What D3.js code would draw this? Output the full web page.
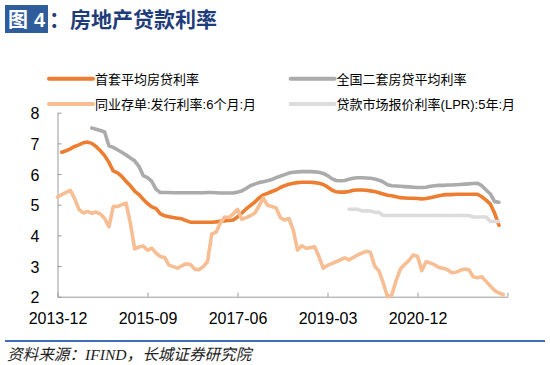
<!DOCTYPE html>
<html><head><meta charset="utf-8">
<script src="https://cdn.jsdelivr.net/npm/d3@7"></script>
<style>body{margin:0;background:#fff} svg{display:block}</style>
</head><body><svg id="c" width="550" height="365"></svg>
<script>
// ---- data (monthly, index 0 = 2013-12) ----
const startMonth = "2013-12";
const monthCount = 106; // 2013-12 .. 2022-09
const seriesNames = ["首套平均房贷利率","全国二套房贷平均利率","同业存单:发行利率:6个月:月","贷款市场报价利率(LPR):5年:月"];

const firstHomeStart = 1;
const firstHomeRate = [6.71,6.76,6.82,6.90,6.95,7.02,7.04,7.00,6.90,6.76,6.60,6.38,6.10,6.04,5.92,5.76,5.62,5.44,5.33,5.18,
  5.04,4.93,4.87,4.70,4.64,4.61,4.58,4.56,4.54,4.48,4.43,4.43,4.43,4.43,4.43,4.43,4.44,4.46,4.47,4.49,
  4.50,4.60,4.73,4.86,4.97,5.08,5.22,5.32,5.37,5.43,5.48,5.56,5.62,5.67,5.70,5.72,5.73,5.73,5.73,5.72,
  5.70,5.66,5.58,5.48,5.42,5.41,5.41,5.43,5.47,5.48,5.48,5.47,5.45,5.43,5.39,5.35,5.31,5.29,5.26,5.23,
  5.22,5.21,5.21,5.20,5.19,5.20,5.23,5.26,5.29,5.32,5.33,5.33,5.34,5.34,5.34,5.34,5.34,5.34,5.26,5.15,
  5.02,4.72,4.33];

const secondHomeStart = 8;
const secondHomeRate = [7.50,7.46,7.42,7.37,6.92,6.87,6.79,6.71,6.62,6.52,6.43,6.25,5.95,5.88,5.76,5.50,5.40,5.40,5.40,
  5.39,5.39,5.39,5.39,5.39,5.39,5.39,5.39,5.40,5.40,5.39,5.38,5.38,5.38,5.38,5.41,5.45,5.53,5.62,5.67,
  5.72,5.75,5.78,5.82,5.88,5.93,5.98,6.03,6.06,6.07,6.08,6.08,6.08,6.07,6.06,6.02,5.95,5.85,5.79,5.78,
  5.79,5.83,5.86,5.88,5.88,5.87,5.86,5.84,5.80,5.74,5.65,5.62,5.61,5.60,5.59,5.58,5.57,5.56,5.56,5.57,
  5.60,5.62,5.63,5.63,5.64,5.64,5.65,5.66,5.67,5.68,5.69,5.70,5.62,5.48,5.35,5.10,5.08];

const ncdStart = 0;
const ncdRate = [5.25,5.33,5.40,5.47,5.20,4.85,4.73,4.78,4.72,4.76,4.70,4.55,4.28,4.94,4.94,5.00,5.05,4.40,3.56,3.62,
  3.65,3.52,3.58,3.42,3.31,3.28,3.03,2.98,2.93,3.01,3.07,3.05,2.90,2.88,2.98,3.14,4.05,4.10,4.40,4.60,
  4.58,4.70,4.85,4.52,4.58,4.64,4.72,4.95,5.22,4.98,4.94,4.90,4.58,4.50,4.55,4.18,3.52,3.66,3.58,3.60,
  3.63,3.31,2.93,3.02,3.08,3.14,3.20,3.27,3.20,3.28,3.36,3.42,3.48,3.45,3.00,2.84,2.45,2.00,2.06,2.52,
  2.90,3.05,3.18,3.36,3.32,2.85,3.14,3.10,3.04,2.95,2.93,2.88,2.78,2.80,2.86,2.90,2.88,2.65,2.62,2.65,
  2.50,2.35,2.20,2.12,2.07];

const lprStart = 68;
const lprRate = [4.85,4.85,4.85,4.80,4.80,4.80,4.75,4.75,
  4.65,4.65,4.65,4.65,4.65,4.65,4.65,4.65,4.65,4.65,4.65,4.65,4.65,4.65,4.65,4.65,4.65,4.65,4.65,4.65,4.65,
  4.60,4.60,4.60,4.60,4.45,4.45,4.45];

const xTickIndex = [0,21,42,63,84,105];
const xTickLabels = ["2013-12","2015-09","2017-06","2019-03","2020-12",""];
const yTicks = [2,3,4,5,6,7,8];

const colors = ["#ED7D31","#ABABAB","#F8BE93","#DCDCDC"];

// ---- drawing ----
const svg = d3.select("#c");
const x = d3.scaleLinear().domain([0, monthCount - 1]).range([57.5, 507.5]);
const y = d3.scaleLinear().domain([2, 8]).range([296.7, 112.7]);

// title
svg.append("rect").attr("x",5).attr("y",5).attr("width",43).attr("height",28).attr("fill","#2F5C9B");
svg.append("text").attr("x",8).attr("y",27).attr("fill","#fff")
  .style("font-family","'Noto Sans CJK SC'").style("font-weight","700").style("font-size","20px").text("图");
svg.append("text").attr("x",34).attr("y",27).attr("fill","#fff")
  .style("font-family","'Liberation Sans'").style("font-weight","700").style("font-size","20px").text("4");
svg.append("text").attr("x",49).attr("y",27).attr("fill","#1F3C7A")
  .style("font-family","'Noto Sans CJK SC'").style("font-weight","700").style("font-size","21px").text("：房地产贷款利率");

// legend
const legendItems = [
  {name: seriesNames[0], c: colors[0], lx: 49, ly: 78.8},
  {name: seriesNames[1], c: colors[1], lx: 290.6, ly: 78.8},
  {name: seriesNames[2], c: colors[2], lx: 49, ly: 104},
  {name: seriesNames[3], c: colors[3], lx: 290.6, ly: 104}
];
legendItems.forEach(d => {
  svg.append("line").attr("x1",d.lx).attr("x2",d.lx+44).attr("y1",d.ly).attr("y2",d.ly)
    .attr("stroke",d.c).attr("stroke-width",4).attr("stroke-linecap","round");
  svg.append("text").attr("x",d.lx+46).attr("y",d.ly+5)
    .style("font-family","'Liberation Sans','Noto Sans CJK SC'").style("font-size","13px").attr("fill","#000").text(d.name);
});

// axes
const xAxis = d3.axisBottom(x).tickValues(xTickIndex).tickSizeInner(-4).tickSizeOuter(0).tickPadding(16)
  .tickFormat((d,i) => xTickLabels[i]);
const gx = svg.append("g").attr("transform","translate(0,296.7)").call(xAxis);
const yAxis = d3.axisLeft(y).tickValues(yTicks).tickSizeInner(-4).tickSizeOuter(0).tickPadding(18).tickFormat(d3.format("d"));
const gy = svg.append("g").attr("transform","translate(57.5,0)").call(yAxis);
[gx, gy].forEach(g => {
  g.select(".domain").attr("stroke","#9A9A9A").attr("stroke-width",1);
  g.selectAll(".tick line").attr("stroke","#9A9A9A");
  g.selectAll(".tick text").attr("fill","#000").style("font-family","'Liberation Sans'").style("font-size","16px");
});
gy.selectAll(".tick text").attr("dy","0.39em");

// series
const line = d3.line().x(d => x(d[0])).y(d => y(d[1]));
const series = [
  {start: firstHomeStart, vals: firstHomeRate, c: colors[0]},
  {start: secondHomeStart, vals: secondHomeRate, c: colors[1]},
  {start: ncdStart, vals: ncdRate, c: colors[2]},
  {start: lprStart, vals: lprRate, c: colors[3]}
];
series.forEach(s => {
  const pts = s.vals.map((v,k) => [s.start + k, v]);
  svg.append("path").attr("d", line(pts)).attr("fill","none").attr("stroke",s.c)
    .attr("stroke-width",3.6).attr("stroke-linejoin","round").attr("stroke-linecap","round");
});

// footer
svg.append("line").attr("x1",5).attr("x2",545).attr("y1",341).attr("y2",341).attr("stroke","#3F6DB8").attr("stroke-width",2);
svg.append("text").attr("x",7).attr("y",360).attr("fill","#222")
  .style("font-family","'Liberation Serif','Noto Sans CJK SC'").style("font-style","italic").style("font-size","15.6px")
  .text("资料来源：IFIND，长城证券研究院");
</script></body></html>
